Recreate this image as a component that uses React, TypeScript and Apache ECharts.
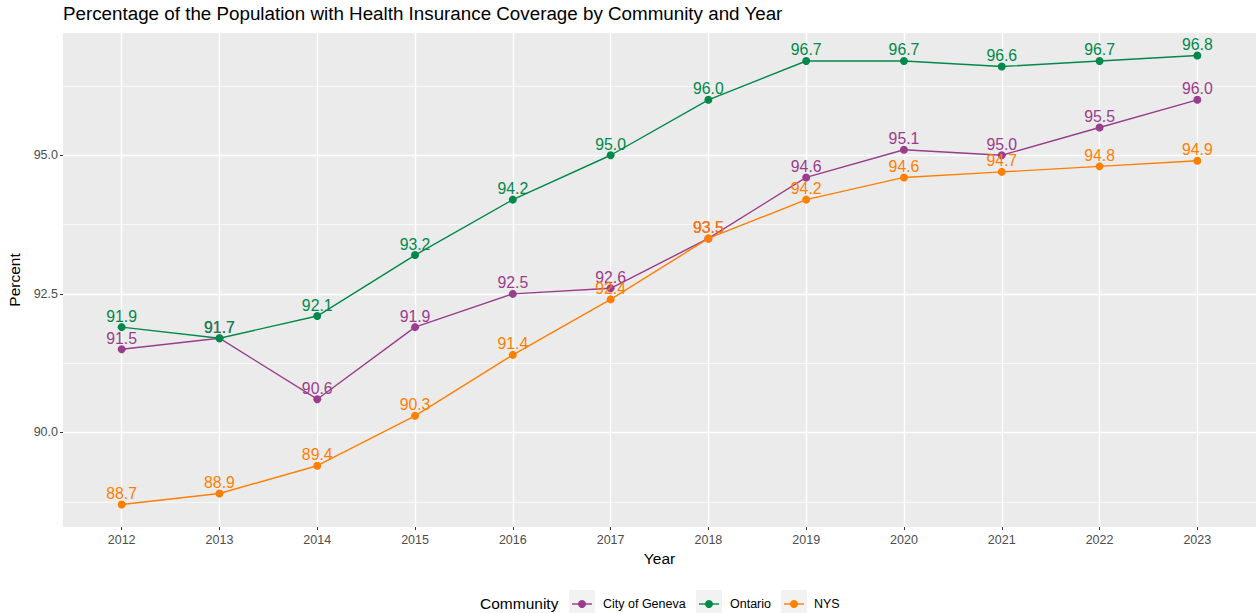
import React, { useEffect, useRef } from "react";
import * as echarts from "echarts";

const years = [2012, 2013, 2014, 2015, 2016, 2017, 2018, 2019, 2020, 2021, 2022, 2023];
const geneva = [91.5, 91.7, 90.6, 91.9, 92.5, 92.6, 93.5, 94.6, 95.1, 95.0, 95.5, 96.0];
const ontario = [91.9, 91.7, 92.1, 93.2, 94.2, 95.0, 96.0, 96.7, 96.7, 96.6, 96.7, 96.8];
const nys = [88.7, 88.9, 89.4, 90.3, 91.4, 92.4, 93.5, 94.2, 94.6, 94.7, 94.8, 94.9];
const seriesNames = ["City of Geneva", "Ontario", "NYS"];
const seriesColors = ["#993D8C", "#00894A", "#FF7F00"];
const yMajor = [90, 92.5, 95];
const yMinor = [88.75, 91.25, 93.75, 96.25];

const FONT = "'Liberation Sans', Arial, Helvetica, sans-serif";

export default function App() {
  const ref = useRef<HTMLDivElement>(null);
  useEffect(() => {
    if (!ref.current) return;
    const chart = echarts.init(ref.current, null, { renderer: "svg" });
    const values = [geneva, ontario, nys];
    const dataSeries = seriesNames.map((name, i) => ({
      type: "line",
      name,
      z: 3 + i,
      data: years.map((y, k) => [y, values[i][k]]),
      symbol: "circle",
      symbolSize: 8,
      itemStyle: { color: seriesColors[i] },
      lineStyle: { color: seriesColors[i], width: 1.4 },
      label: {
        show: true,
        position: "top",
        distance: -1,
        color: seriesColors[i],
        fontSize: 15.8,
        fontFamily: FONT,
        formatter: (p: any) => Number(p.value[1]).toFixed(1),
      },
      emphasis: { disabled: true },
    }));

    const gridSeries = {
      type: "line",
      name: "grid",
      z: 1,
      data: [],
      silent: true,
      markLine: {
        silent: true,
        z: 1,
        symbol: "none",
        animation: false,
        label: { show: false },
        emphasis: { disabled: true },
        data: [
          ...yMinor.map((v) => ({ yAxis: v, lineStyle: { color: "#FFFFFF", width: 0.7, type: "solid" } })),
          ...yMajor.map((v) => ({ yAxis: v, lineStyle: { color: "#FFFFFF", width: 1.4, type: "solid" } })),
          ...years.map((v) => ({ xAxis: v, lineStyle: { color: "#FFFFFF", width: 1.4, type: "solid" } })),
        ],
      },
    };

    const keyX = [569, 696, 781];
    const textX = [603, 730, 814];
    const legendGraphics: any[] = [
      {
        type: "text",
        left: 480,
        top: 595,
        style: { text: "Community", fontSize: 15.5, fontFamily: FONT, fill: "#000000" },
      },
    ];
    seriesNames.forEach((name, i) => {
      legendGraphics.push({ type: "rect", shape: { x: keyX[i], y: 590, width: 26, height: 26 }, style: { fill: "#F2F2F2" } });
      legendGraphics.push({
        type: "line",
        shape: { x1: keyX[i] + 3, y1: 604, x2: keyX[i] + 23, y2: 604 },
        style: { stroke: seriesColors[i], lineWidth: 1.4 },
      });
      legendGraphics.push({ type: "circle", shape: { cx: keyX[i] + 13, cy: 604, r: 4 }, style: { fill: seriesColors[i] } });
      legendGraphics.push({
        type: "text",
        left: textX[i],
        top: 597,
        style: { text: name, fontSize: 12.5, fontFamily: FONT, fill: "#000000" },
      });
    });

    chart.setOption({
      animation: false,
      backgroundColor: "#FFFFFF",
      textStyle: { fontFamily: FONT },
      title: {
        text: "Percentage of the Population with Health Insurance Coverage by Community and Year",
        left: 63,
        top: 4,
        padding: 0,
        textStyle: { fontSize: 18.8, fontWeight: "normal", color: "#000000", fontFamily: FONT },
      },
      grid: {
        left: 63,
        right: 0,
        top: 33,
        bottom: 86,
        show: true,
        containLabel: false,
        outerBoundsMode: "none",
        backgroundColor: "#EBEBEB",
        borderWidth: 0,
      },
      xAxis: {
        type: "value",
        min: 2011.4,
        max: 2023.6,
        name: "Year",
        nameLocation: "middle",
        nameGap: 22,
        nameTextStyle: { fontSize: 15.5, color: "#000000", fontFamily: FONT },
        axisLine: { show: false },
        splitLine: { show: false },
        axisTick: { show: true, length: 3, lineStyle: { color: "#333333", width: 1 }, customValues: years },
        axisLabel: {
          customValues: years,
          color: "#4D4D4D",
          fontSize: 12.5,
          margin: 6,
          fontFamily: FONT,
          formatter: (v: number) => String(v),
        },
      },
      yAxis: {
        type: "value",
        min: 88.295,
        max: 97.205,
        name: "Percent",
        nameLocation: "middle",
        nameGap: 38,
        nameTextStyle: { fontSize: 15.5, color: "#000000", fontFamily: FONT },
        axisLine: { show: false },
        splitLine: { show: false },
        axisTick: { show: true, length: 3, lineStyle: { color: "#333333", width: 1 }, customValues: yMajor },
        axisLabel: {
          customValues: yMajor,
          color: "#4D4D4D",
          fontSize: 12.5,
          margin: 5,
          fontFamily: FONT,
          formatter: (v: number) => v.toFixed(1),
        },
      },
      graphic: legendGraphics,
      series: [gridSeries, ...dataSeries],
    });
    return () => chart.dispose();
  }, []);
  return <div ref={ref} style={{ position: "fixed", left: 0, top: 0, width: 1256, height: 613 }} />;
}
